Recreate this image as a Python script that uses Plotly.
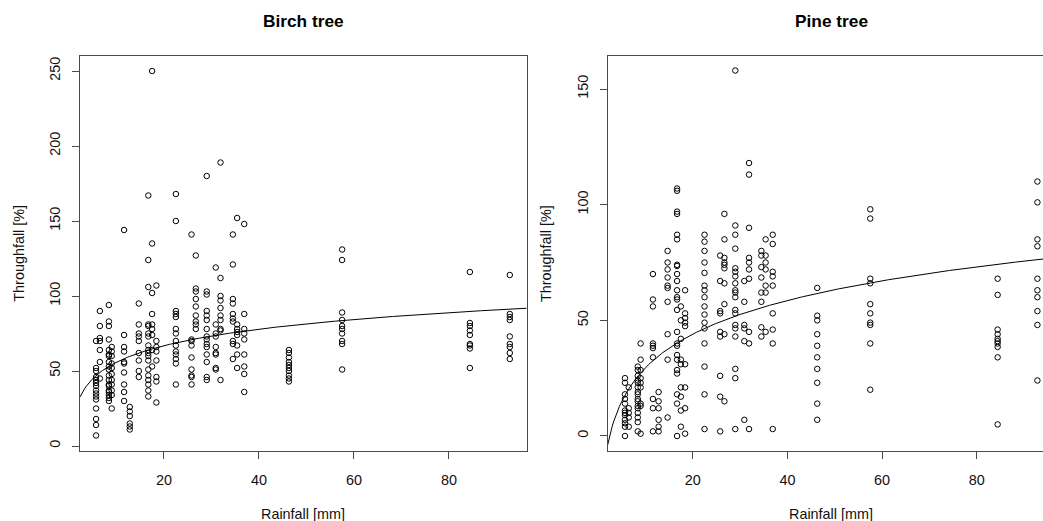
import numpy as np
import plotly.graph_objects as go

# ---------------- data ----------------
rain_mm = [5.7, 6.5, 8.4, 9.0, 11.6, 12.8, 14.7, 16.7, 17.5, 18.4, 22.5, 25.8,
           26.7, 29.0, 30.9, 31.9, 34.5, 35.4, 36.9, 46.3, 57.5, 84.4, 92.8]

birch_tf = [
    [70, 52, 50, 46, 44, 42, 40, 37, 35, 33, 31, 25, 18, 14, 7],
    [90, 80, 72, 70, 64, 56, 45],
    [94, 83, 80, 71, 64, 61, 60, 56, 53, 51, 47, 44, 41, 40, 37, 36, 34, 32, 30],
    [66, 63, 60, 55, 52, 48, 44, 41, 37, 34, 25],
    [144, 74, 66, 63, 56, 55, 49, 41, 36, 30],
    [26, 23, 20, 15, 13, 11],
    [95, 81, 75, 73, 70, 62, 57, 50, 46],
    [167, 124, 106, 81, 80, 75, 73, 67, 64, 62, 60, 57, 51, 47, 44, 41, 37, 33],
    [250, 135, 102, 88, 81, 78, 74, 64, 53],
    [107, 70, 66, 63, 57, 46, 43, 29],
    [168, 150, 90, 88, 86, 78, 75, 70, 67, 63, 61, 58, 55, 41],
    [141, 71, 70, 67, 59, 51, 47, 46, 41],
    [127, 105, 103, 98, 93, 87, 83, 81, 78],
    [180, 103, 101, 90, 87, 84, 78, 73, 71, 68, 66, 61, 56, 46, 44],
    [119, 81, 75, 73, 66, 62, 61, 52, 51],
    [189, 112, 100, 97, 92, 87, 84, 78, 77, 44],
    [141, 121, 98, 95, 88, 85, 83, 70, 68, 58],
    [152, 81, 78, 76, 74, 67, 61, 52],
    [148, 88, 78, 75, 71, 61, 53, 48, 36],
    [64, 62, 59, 56, 54, 52, 50, 47, 45, 43],
    [131, 124, 89, 84, 80, 78, 75, 70, 68, 51],
    [116, 82, 80, 77, 74, 68, 67, 65, 52],
    [114, 88, 86, 84, 73, 68, 66, 62, 58],
]

pine_tf = [
    [25, 23, 18, 16, 14, 11, 10, 9, 7, 5.5, 4, 0],
    [21, 12, 10, 8, 4],
    [30, 28.5, 26, 24, 23, 21, 19, 18, 16, 15, 13, 12, 10, 8, 6, 2],
    [40, 33, 28.5, 25, 23, 21, 14, 13, 1],
    [70, 59, 56, 40, 39, 38, 34, 16, 12, 2],
    [19, 15, 12, 7, 4, 2],
    [80, 75, 72, 68.5, 65, 64, 58, 44, 33, 8],
    [107, 106, 97, 96, 87, 85, 74, 73.5, 70, 67, 63, 60, 59, 54.5, 45, 40, 39,
     35, 33, 28.5, 27, 18, 14, 0],
    [56, 50, 42, 33, 31, 21, 17, 11, 4],
    [63, 53, 51, 49, 47.5, 31, 21, 12, 1],
    [87, 84, 80, 75, 70.5, 65, 63, 60, 56, 52.5, 49, 46.5, 40, 30, 18, 3],
    [78, 67, 54, 53, 45, 43, 26, 17, 2],
    [96, 85, 77, 75, 74, 72.5, 66, 57, 44, 15],
    [158, 91, 87, 81, 72.5, 71, 69, 66, 63, 62, 60, 54.5, 53, 48, 46.5, 43, 29, 25, 3],
    [67, 58, 48, 46.5, 41, 7],
    [118, 113, 90, 77, 75, 72, 68, 45, 40, 3],
    [80, 78, 73, 68.5, 62, 58, 47, 43],
    [85, 78, 75, 72, 65, 62, 45],
    [87, 83, 71, 69, 65, 53, 46, 40, 3],
    [64, 52, 50, 44, 39, 34, 29, 23, 14, 7],
    [98, 94, 68, 66, 57, 53, 49, 48, 40, 20],
    [68, 61, 46, 44, 42, 41, 40, 38.5, 34, 5],
    [110, 101, 85, 82, 68, 63, 60, 54, 48, 24],
]

# fitted curve y = a + b*ln(x), coefficients
birch_fit = [19.3, 15.88]
pine_fit = [-18.9, 21.0]

x_ticks = [20, 40, 60, 80]
birch_y_ticks = [0, 50, 100, 150, 200, 250]
pine_y_ticks = [0, 50, 100, 150]

titles = ["Birch tree", "Pine tree"]
x_title = "Rainfall [mm]"
y_title = "Throughfall [%]"


def flatten(vals):
    xs, ys = [], []
    for r, col in zip(rain_mm, vals):
        for v in col:
            xs.append(r)
            ys.append(v)
    return xs, ys


W, H = 1043, 521
FONT = "Liberation Sans, Arial, sans-serif"
LINE = "#4a4a4a"

birch_xr = [2.32, 96.36]
pine_xr = [2.05, 93.98]
birch_yr = [-3.33, 260.2]
pine_yr = [-6.49, 164.4]

fig = go.Figure()

marker = dict(symbol="circle-open", size=5.5, color="black", line=dict(width=1, color="black"))

bx, by = flatten(birch_tf)
fig.add_trace(go.Scatter(x=bx, y=by, mode="markers", marker=marker, xaxis="x", yaxis="y",
                         showlegend=False, hoverinfo="x+y"))
cx = np.linspace(birch_xr[0], birch_xr[1], 300)
fig.add_trace(go.Scatter(x=cx, y=birch_fit[0] + birch_fit[1] * np.log(cx), mode="lines",
                         line=dict(color="black", width=1), xaxis="x", yaxis="y",
                         showlegend=False, hoverinfo="skip"))

px_, py_ = flatten(pine_tf)
fig.add_trace(go.Scatter(x=px_, y=py_, mode="markers", marker=marker, xaxis="x2", yaxis="y2",
                         showlegend=False, hoverinfo="x+y"))
cx2 = np.linspace(pine_xr[0], pine_xr[1], 300)
fig.add_trace(go.Scatter(x=cx2, y=pine_fit[0] + pine_fit[1] * np.log(cx2), mode="lines",
                         line=dict(color="black", width=1), xaxis="x2", yaxis="y2",
                         showlegend=False, hoverinfo="skip"))

ydom = [(H - 451) / H, (H - 55.7) / H]
bdom = [80 / W, 526.7 / W]
pdom = [607.7 / W, 1.0]

common = dict(showgrid=False, zeroline=False, showline=True, linecolor=LINE, linewidth=1,
              ticks="outside", ticklen=7, tickcolor=LINE, tickwidth=1,
              tickfont=dict(family=FONT, size=14.4, color="#111"), automargin=False)

fig.update_layout(
    width=W, height=H,
    margin=dict(l=0, r=0, t=0, b=0),
    paper_bgcolor="white", plot_bgcolor="white",
    xaxis=dict(domain=bdom, range=birch_xr, tickvals=x_ticks, anchor="y", mirror=True,
               ticklabelstandoff=9, **common),
    yaxis=dict(domain=ydom, range=birch_yr, tickvals=birch_y_ticks, anchor="x", mirror=True,
               tickangle=-90, ticklabelstandoff=6, **common),
    xaxis2=dict(domain=pdom, range=pine_xr, tickvals=x_ticks, anchor="y2", mirror=True,
                ticklabelstandoff=9, **common),
    yaxis2=dict(domain=ydom, range=pine_yr, tickvals=pine_y_ticks, anchor="x2", mirror=False,
                tickangle=-90, ticklabelstandoff=6, **common),
)

centers = [303.3, 831.0]
yaxis_x = [19.3, 546.7]
ann = []
for i in range(2):
    ann.append(dict(text="<b>%s</b>" % titles[i], x=centers[i] / W, y=(H - 20.7) / H,
                    xref="paper", yref="paper", showarrow=False, xanchor="center", yanchor="middle",
                    font=dict(family=FONT, size=17.3, color="black")))
    ann.append(dict(text=x_title, x=centers[i] / W, y=(H - 513.5) / H,
                    xref="paper", yref="paper", showarrow=False, xanchor="center", yanchor="middle",
                    font=dict(family=FONT, size=14.4, color="#111")))
    ann.append(dict(text=y_title, x=yaxis_x[i] / W, y=(H - 253.4) / H, textangle=-90,
                    xref="paper", yref="paper", showarrow=False, xanchor="center", yanchor="middle",
                    font=dict(family=FONT, size=14.4, color="#111")))
fig.update_layout(annotations=ann)

fig.write_html("out.html", config={"displayModeBar": False},
               post_script="document.body.style.margin='0px';document.body.style.padding='0px';")
